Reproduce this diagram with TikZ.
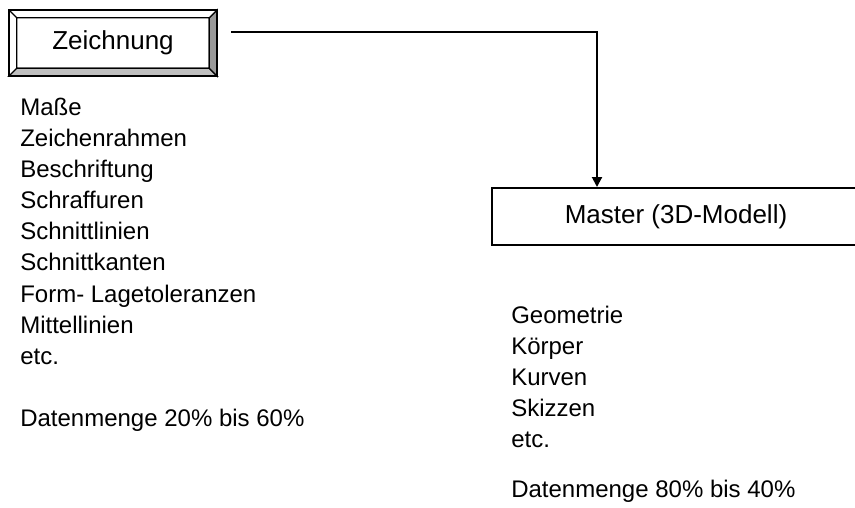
\documentclass[tikz,border=0pt]{standalone}
\usepackage{fontspec}
\setmainfont{Liberation Sans}
\usetikzlibrary{arrows.meta}
\begin{document}
\begin{tikzpicture}[x=0.75pt,y=-0.75pt]
	\tikzstyle{every node}=[font=\fontsize{18}{23.3}\selectfont,inner sep=0pt]
	\tikzstyle{gross}=[font=\fontsize{19.5}{23.3}\selectfont]
	\tikzstyle{liste}=[align=left,anchor=north west]
	\tikzstyle{kasten}=[draw,line width=1.5pt]
	\tikzstyle{pfeil}=[line width=1.5pt,-{Triangle[width=7.5pt,length=7.5pt]}]
	\useasboundingbox (0,0) rectangle (855,507);
	\node[gross,minimum width=144pt,minimum height=37.5pt] (zeichnung) at (113,43) {Zeichnung};
	\filldraw[fill=gray!50,line width=0.8pt] (zeichnung.south west) -- ++(-6pt,-6pt) -- ([shift={(6pt,-6pt)}]zeichnung.south east) -- (zeichnung.south east) -- cycle;
	\filldraw[fill=gray!80,line width=0.8pt] (zeichnung.south east) -- ++(6pt,-6pt) -- ([shift={(6pt,6pt)}]zeichnung.north east) -- (zeichnung.north east) -- cycle;
	\draw[line width=0.8pt] (zeichnung.north west) rectangle (zeichnung.south east)
		(zeichnung.north west) -- ++(-6pt,6pt)
		(zeichnung.north east) -- ++(6pt,6pt);
	\draw[line width=1.5pt] ([shift={(-6pt,6pt)}]zeichnung.north west) rectangle ([shift={(6pt,-6pt)}]zeichnung.south east);
	\node[kasten,gross,minimum width=276pt,minimum height=42.75pt] (master) at (676,216.5) {Master (3D-Modell)};
	\coordinate (anfang) at (231,32);
	\coordinate (knick) at (597,32);
	\draw[pfeil] (anfang) -- (knick) -- (knick |- master.north);
	\node[liste] (zeichnungsdaten) at (20,98) {Maße\\Zeichenrahmen\\Beschriftung\\Schraffuren\\Schnittlinien\\Schnittkanten\\Form- Lagetoleranzen\\Mittellinien\\etc.\\[23.3pt]Datenmenge 20\% bis 60\%};
	\node[liste] (masterdaten) at (511,306) {Geometrie\\Körper\\Kurven\\Skizzen\\etc.\\[14pt]Datenmenge 80\% bis 40\%};
\end{tikzpicture}
\end{document}
